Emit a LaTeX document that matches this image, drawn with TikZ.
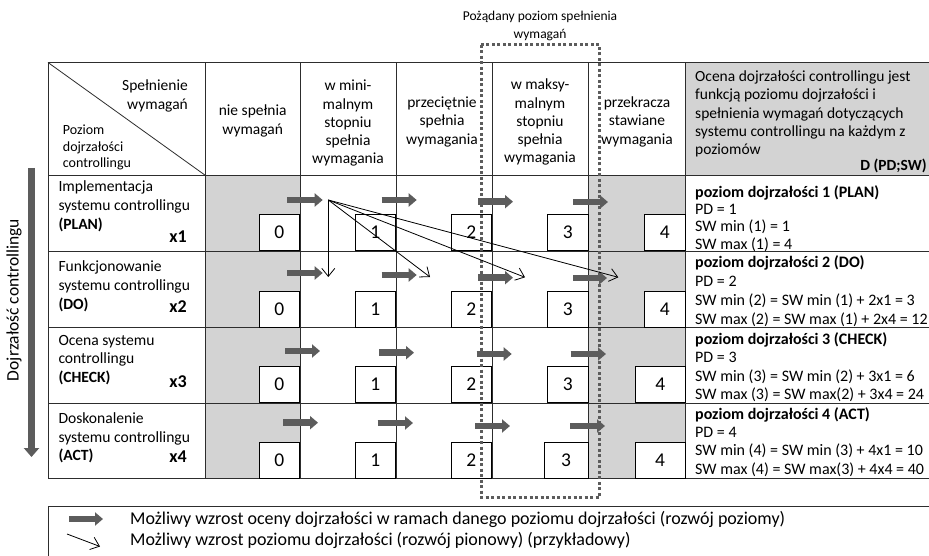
\documentclass[tikz,border=0pt]{standalone}
\usepackage{fontspec}
\setmainfont{Carlito}
\usetikzlibrary{arrows.meta}
\definecolor{cellgray}{RGB}{211,211,211}
\definecolor{arrgray}{RGB}{92,92,92}
\definecolor{linegray}{RGB}{45,45,45}
\begin{document}
\begin{tikzpicture}[x=1pt,y=-1pt,
  gridline/.style={draw=linegray, line width=0.8pt},
  numbox/.style={draw=black, fill=white, line width=0.9pt, minimum width=40.5pt, minimum height=36pt, inner sep=0pt, anchor=south east, font=\fontsize{19.5}{19.5}\selectfont},
  thickarr/.style={draw=arrgray, line width=6.5pt, -{Triangle[length=8pt,width=13pt]}},
  thinarr/.style={draw=black, line width=0.8pt, -{Straight Barb[length=8pt,width=13pt]}},
  htxt/.style={inner sep=0pt, font=\fontsize{15.5}{18.2}\selectfont},
  ltxt/.style={inner sep=0pt, font=\fontsize{15.6}{18.7}\selectfont},
  xlab/.style={inner sep=0pt, font=\fontsize{18}{18}\selectfont\bfseries},
  dotbox/.style={draw=arrgray, line width=3pt, dash pattern=on 3pt off 2.5pt}
]
\path[use as bounding box, clip] (0,0) rectangle (929,556);
\fill[white] (0,0) rectangle (929,556);

% gray cells
\fill[cellgray] (205.5,175.5) rectangle (300,478.5);
\fill[cellgray] (588.5,175.5) rectangle (685.5,478.5);
\fill[cellgray] (685.5,62.5) rectangle (929,175.5);

% grid
\foreach \yy in {62.5,175.5,251,327.5,403,478.5}
  \draw[gridline] (48,\yy) -- (929,\yy);
\foreach \xx in {48,205.5,300,396,492,588.5,685.5}
  \draw[gridline] (\xx,62.5) -- (\xx,478.5);
\coordinate (dA) at (48,62.5);
\coordinate (dB) at (205.5,175.5);
\draw[gridline] (dA) -- (dB);

% header texts (base anchor = baseline of the last line)
\node[htxt, anchor=base east, align=right] (sp) at (188,109.2) {Spełnienie\\wymagań};
\node[inner sep=0pt, font=\fontsize{14}{16.7}\selectfont, anchor=base west, align=left] (pz) at (62.7,167.9) {Poziom\\dojrzałości\\controllingu};
\node[htxt, anchor=base, align=center] (h1) at (252.7,134.2) {nie spełnia\\wymagań};
\node[htxt, anchor=base, align=center] (h2) at (348,163.8) {w mini-\\malnym\\stopniu\\spełnia\\wymagania};
\node[htxt, anchor=base, align=center] (h3) at (442,144.1) {przeciętnie\\spełnia\\wymagania};
\node[htxt, anchor=base, align=center] (h4) at (540,162.8) {w maksy-\\malnym\\stopniu\\spełnia\\wymagania};
\node[htxt, anchor=base, align=center] (h5) at (637,144.1) {przekracza\\stawiane\\wymagania};
\node[htxt, anchor=base west, align=left] (oc) at (695,154.5) {Ocena dojrzałości controllingu jest\\funkcją poziomu dojrzałości i\\spełnienia wymagań dotyczących\\systemu controllingu na każdym z\\poziomów};
\node[inner sep=0pt, anchor=base east, font=\fontsize{15.5}{18}\selectfont\bfseries] (dps) at (927,171) {D (PD;SW)};

% row labels
\node[ltxt, anchor=base west, align=left] (l1) at (58.3,229.1) {Implementacja\\systemu controllingu\\\textbf{(PLAN)}};
\node[xlab, anchor=base east] (x1) at (187,242.5) {x1};
\node[ltxt, anchor=base west, align=left] (l2) at (58.3,309.1) {Funkcjonowanie\\systemu controllingu\\\textbf{(DO)}};
\node[xlab, anchor=base east] (x2) at (187,312.5) {x2};
\node[ltxt, anchor=base west, align=left] (l3) at (58.3,382.4) {Ocena systemu\\controllingu\\\textbf{(CHECK)}};
\node[xlab, anchor=base east] (x3) at (187,387.5) {x3};
\node[ltxt, anchor=base west, align=left] (l4) at (58.3,460.7) {Doskonalenie\\systemu controllingu\\\textbf{(ACT)}};
\node[xlab, anchor=base east] (x4) at (187,462.5) {x4};

% right column texts
\node[inner sep=0pt, font=\fontsize{16}{17.2}\selectfont, anchor=base west, align=left] (d1) at (695,249) {\textbf{poziom dojrzałości 1 (PLAN)}\\PD = 1\\SW min (1) = 1\\SW max (1) = 4};
\node[inner sep=0pt, font=\fontsize{16}{18.9}\selectfont, anchor=base west, align=left] (d2) at (695,324.3) {\textbf{poziom dojrzałości 2 (DO)}\\PD = 2\\SW min (2) = SW min (1) + 2x1 = 3\\SW max (2) = SW max (1) + 2x4 = 12};
\node[inner sep=0pt, font=\fontsize{16}{18.3}\selectfont, anchor=base west, align=left] (d3) at (695,399.3) {\textbf{poziom dojrzałości 3 (CHECK)}\\PD = 3\\SW min (3) = SW min (2) + 3x1 = 6\\SW max (3) = SW max(2) + 3x4 = 24};
\node[inner sep=0pt, font=\fontsize{16}{18.2}\selectfont, anchor=base west, align=left] (d4) at (695,474) {\textbf{poziom dojrzałości 4 (ACT)}\\PD = 4\\SW min (4) = SW min (3) + 4x1 = 10\\SW max (4) = SW max(3) + 4x4 = 40};

% number boxes
\foreach \r/\yb in {1/251,2/327.5,3/403,4/478.5}{
  \node[numbox] (b\r0) at (300,\yb) {0};
  \node[numbox] (b\r1) at (396,\yb) {1};
  \node[numbox] (b\r2) at (492,\yb) {2};
}
\node[numbox] (b13) at (588.5,251) {3};
\node[numbox] (b23) at (588.5,327.5) {3};
\node[numbox] (b33) at (588.5,403) {3};
\node[numbox, minimum width=44pt] (b43) at (588.5,478.5) {3};
\node[numbox] (b14) at (685.5,251) {4};
\node[numbox] (b24) at (685.5,327.5) {4};
\node[numbox, minimum width=49.5pt] (b34) at (685.5,403) {4};
\node[numbox, minimum width=50pt] (b44) at (685.5,478.5) {4};

% dotted desired-level box
\draw[dotbox] (481,45) rectangle (599.5,497);
\node[inner sep=0pt, font=\fontsize{13.5}{18}\selectfont, anchor=base, align=center] (pl) at (540,39) {Pożądany poziom spełnienia\\wymagań};

% horizontal development arrows
\foreach \a/\b/\yy in {287/322.7/200, 381.7/416.7/200, 478/513/201.7, 573/608/202,
                       287/322.7/273, 381.7/416.7/275, 478/513/277.7, 573/607/278,
                       285/320/351, 379/414/352.7, 476.7/511.7/354, 570.7/606/354,
                       283/318/422.7, 377.7/413/423, 475/510/426, 570/605/426}
  \draw[thickarr] (\a,\yy) -- (\b,\yy);

% vertical development arrows
\coordinate (src) at (328.3,200);
\coordinate (t1) at (328.3,277);
\coordinate (t2) at (430,277);
\coordinate (t3) at (525,277.3);
\coordinate (t4) at (618.3,277.3);
\foreach \t in {t1,t2,t3,t4}
  \draw[thinarr] (src) -- (\t);

% left axis
\coordinate (va) at (31.5,168);
\coordinate (vb) at (31.5,457);
\draw[draw=arrgray, line width=6.5pt, -{Triangle[length=9pt,width=15pt]}] (va) -- (vb);
\node[rotate=90, inner sep=0pt, font=\fontsize{17.5}{17.5}\selectfont] (vl) at (14,300) {Dojrzałość controllingu};

% legend
\draw[gridline] (48,506) rectangle (940,570);
\coordinate (la) at (69,519);
\coordinate (lb) at (103,519);
\draw[thickarr] (la) -- (lb);
\coordinate (lc) at (67,534);
\coordinate (ld) at (100,546.5);
\draw[thinarr] (lc) -- (ld);
\node[inner sep=0pt, font=\fontsize{18}{21}\selectfont, anchor=base west, align=left] (lg) at (130,545.5) {Możliwy wzrost oceny dojrzałości w ramach danego poziomu dojrzałości (rozwój poziomy)\\Możliwy wzrost poziomu dojrzałości (rozwój pionowy) (przykładowy)};
\end{tikzpicture}
\end{document}
